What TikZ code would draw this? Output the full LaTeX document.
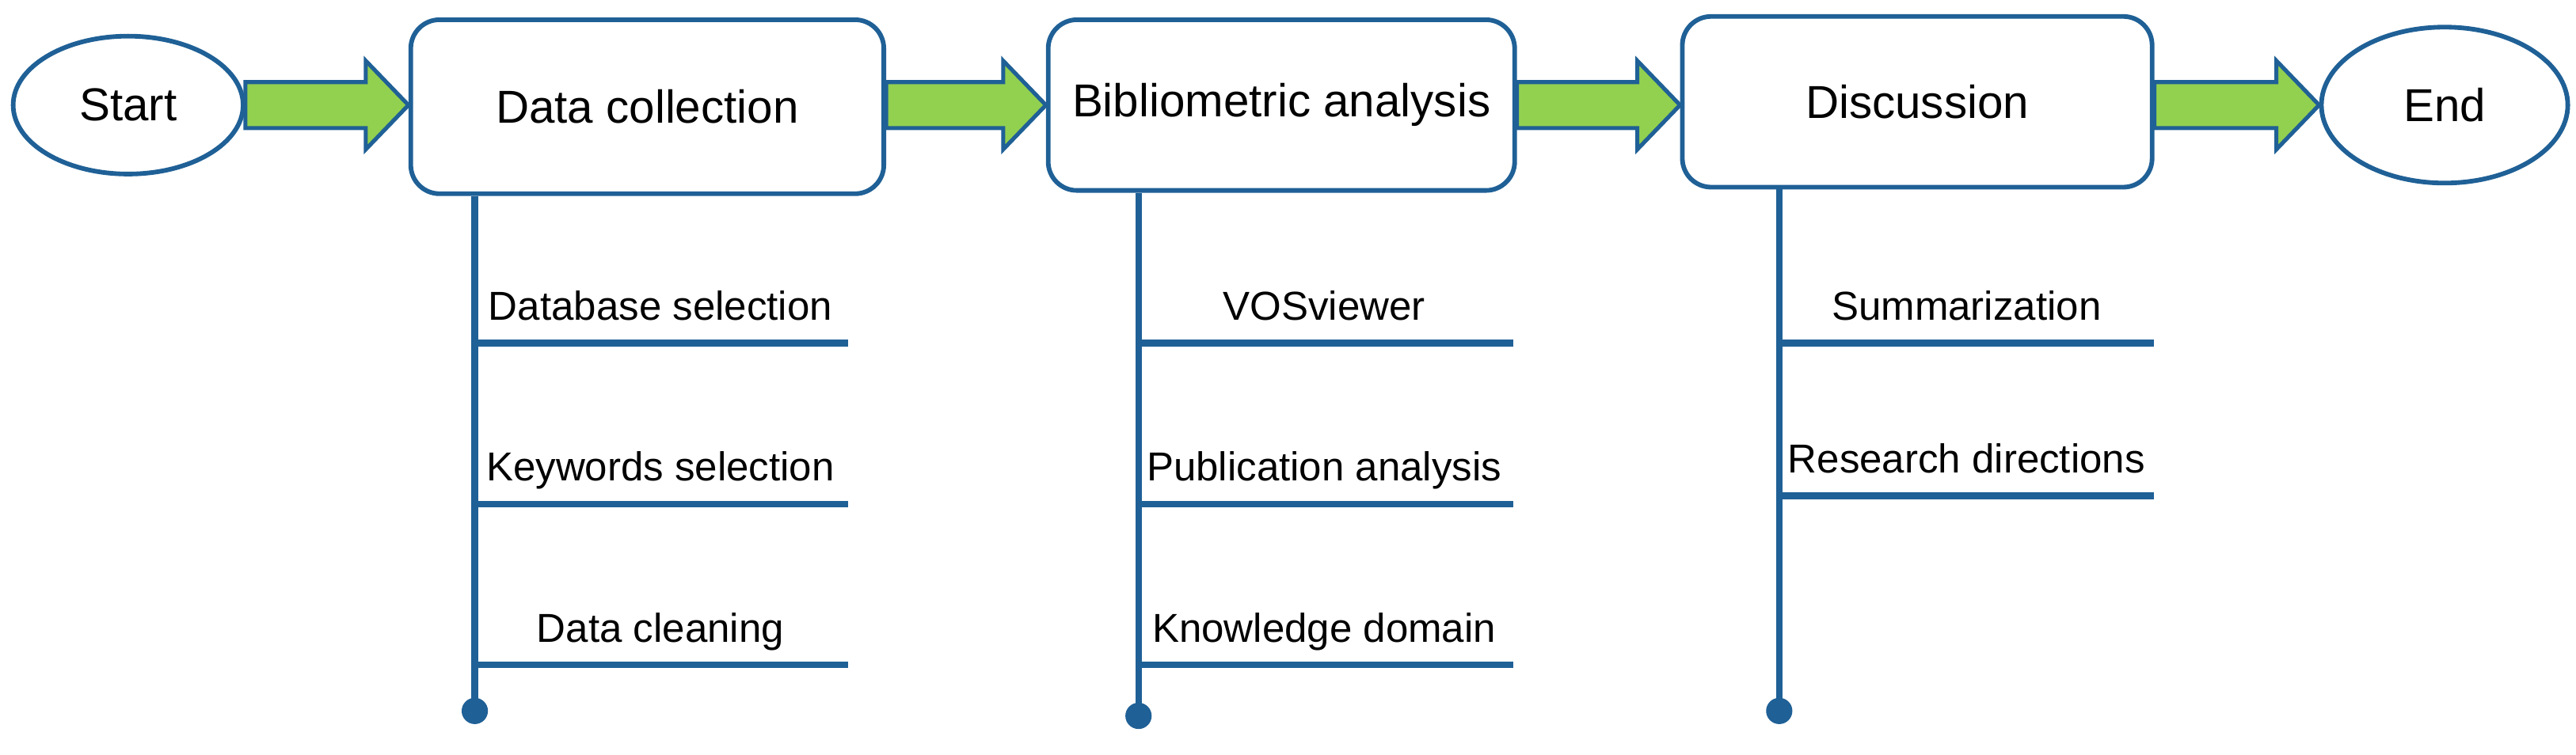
\documentclass[tikz,border=0pt]{standalone}
\usepackage{fontspec}
\setmainfont{Liberation Sans}
\usetikzlibrary{shapes.geometric,calc}
\definecolor{bl}{HTML}{1F6096}
\definecolor{gr}{HTML}{92D050}
\begin{document}
\begin{tikzpicture}[x=0.02cm,y=-0.02cm,
  ell/.style={ellipse,draw=bl,line width=1.6pt,fill=white,font=\fontsize{16}{18}\selectfont},
  box/.style={rectangle,rounded corners=0.35cm,draw=bl,line width=1.6pt,fill=white,font=\fontsize{16}{18}\selectfont},
  stem/.style={draw=bl,line width=2.3pt},
  lab/.style={font=\fontsize{14}{16}\selectfont,anchor=base},
  dot/.style={circle,fill=bl,inner sep=0pt,minimum size=0.32cm}]
\useasboundingbox (0,0) rectangle (1568,459.4);
\node[ell,minimum width=2.8cm,minimum height=1.68cm] (s) at (78,64) {Start};
\node[ell,minimum width=3.0cm,minimum height=1.9cm] (e) at (1488,64) {End};
\node[box,minimum width=5.76cm,minimum height=2.12cm] (d) at (394,65) {Data collection};
\node[box,minimum width=5.68cm,minimum height=2.08cm] (b) at (780,64) {Bibliometric analysis};
\node[box,minimum width=5.72cm,minimum height=2.08cm] (c) at (1167,62) {Discussion};
\foreach \a/\b in {s/d,d/b,b/c,c/e}{
  \draw[bl,line width=1.4pt,fill=gr,line join=miter]
   ($(\a.east |- 0,64)+(0,14)$) -- ($(\b.west |- 0,64)+(-26,14)$) -- ($(\b.west |- 0,64)+(-26,27)$)
   -- (\b.west |- 0,64) -- ($(\b.west |- 0,64)+(-26,-27)$) -- ($(\b.west |- 0,64)+(-26,-14)$)
   -- ($(\a.east |- 0,64)+(0,-14)$) -- cycle;}
\node[dot] (dd) at (289,433) {};
\node[dot] (bd) at (693,436) {};
\node[dot] (cd) at (1083,433) {};
\draw[stem] (d.south -| dd) -- (dd.center);
\draw[stem] (b.south -| bd) -- (bd.center);
\draw[stem] (c.south -| cd) -- (cd.center);
\foreach \y/\t [count=\i] in {209/Database selection,307/Keywords selection,405/Data cleaning}{
  \coordinate (dl\i) at (289,\y); \coordinate (dr\i) at (516,\y);
  \draw[stem] (dl\i) -- (dr\i);
  \node[lab] at (402,\y-14) {\t};}
\foreach \y/\t [count=\i] in {209/VOSviewer,307/Publication analysis,405/Knowledge domain}{
  \coordinate (bl\i) at (693,\y); \coordinate (br\i) at (921,\y);
  \draw[stem] (bl\i) -- (br\i);
  \node[lab] at (806,\y-14) {\t};}
\foreach \y/\t [count=\i] in {209/Summarization,302/Research directions}{
  \coordinate (cl\i) at (1083,\y); \coordinate (cr\i) at (1311,\y);
  \draw[stem] (cl\i) -- (cr\i);
  \node[lab] at (1197,\y-14) {\t};}
\end{tikzpicture}
\end{document}
